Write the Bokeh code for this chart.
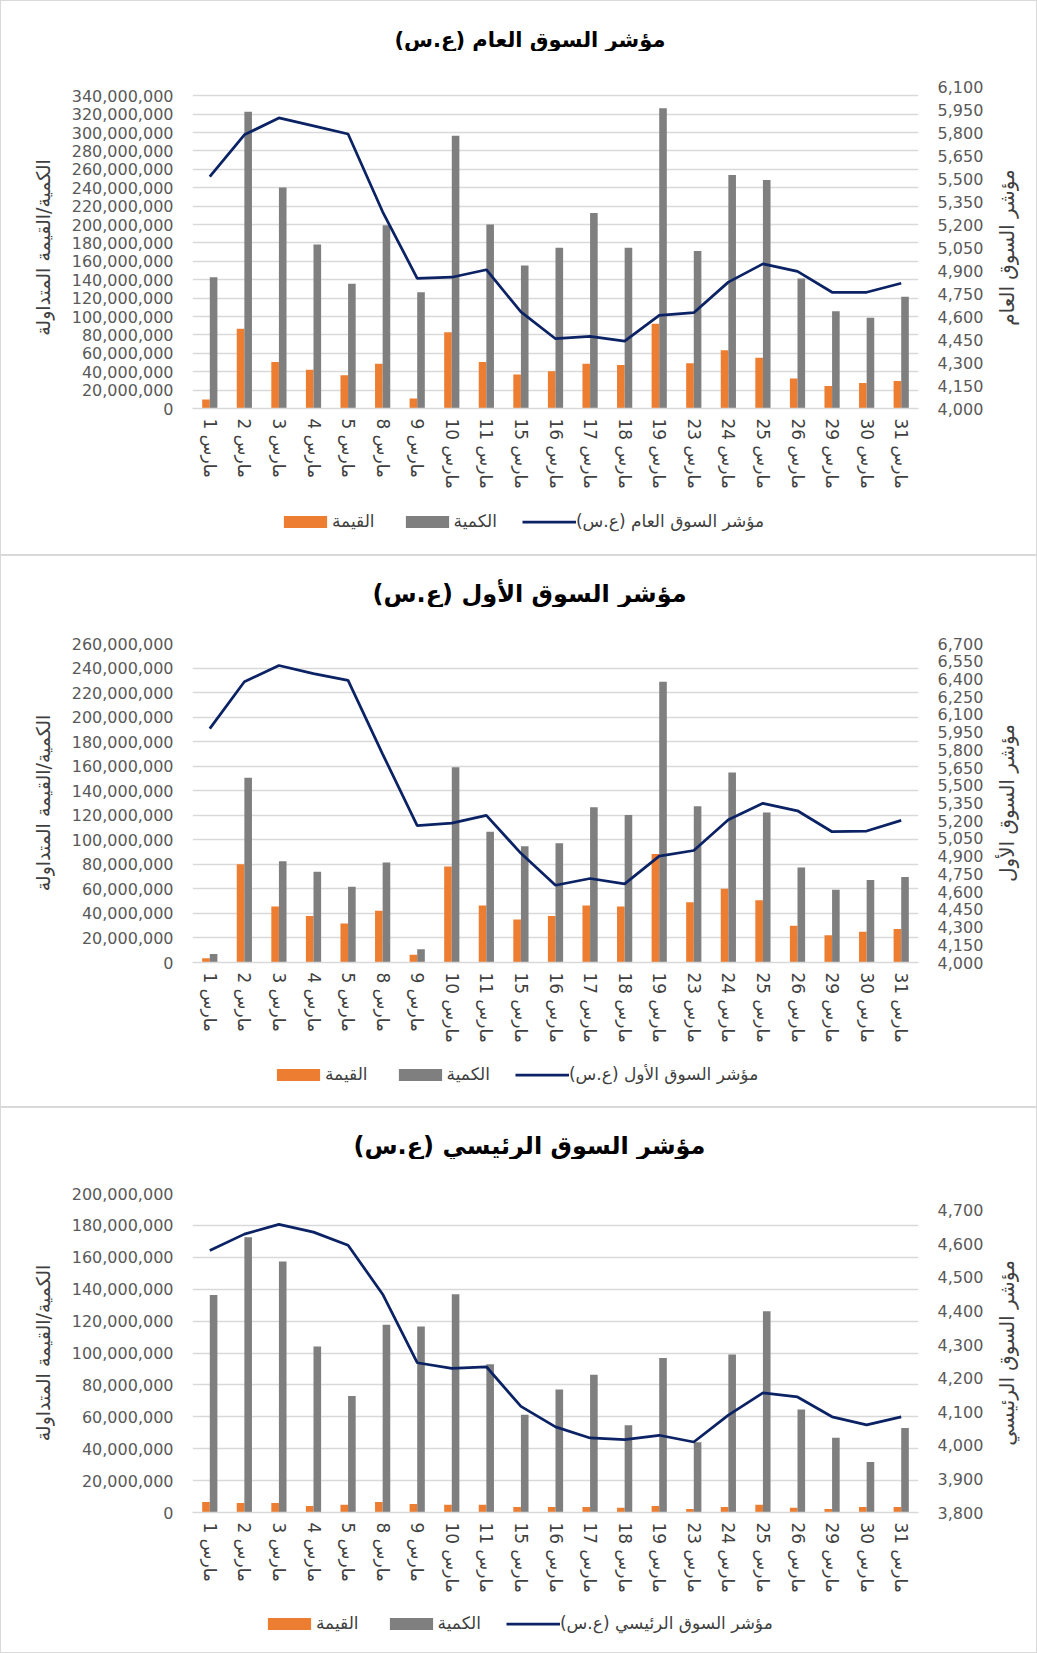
import math
from bokeh.plotting import figure
from bokeh.models import (FactorRange, Range1d, LinearAxis, FixedTicker, NumeralTickFormatter,
                          Legend, LegendItem, ColumnDataSource, Title)
from bokeh.transform import dodge
from bokeh.layouts import column, row
from bokeh.embed import file_html
from bokeh.resources import INLINE

RLM = "\u200f"

# ---------------- data ----------------
days = [1, 2, 3, 4, 5, 8, 9, 10, 11, 15, 16, 17, 18, 19, 23, 24, 25, 26, 29, 30, 31]
dates = [f"{d} مارس" for d in days]

legend_value = "القيمة"
legend_qty = "الكمية"
left_title = "الكمية/القيمة المتداولة"

# Panel 1: general market index
title_1 = "مؤشر السوق العام (ع.س)"
right_title_1 = "مؤشر السوق العام"
value_1 = [9.7e6, 86.6e6, 50.5e6, 42.0e6, 36.1e6, 48.6e6, 10.9e6, 82.8e6, 50.5e6, 36.9e6, 40.4e6,
           48.6e6, 47.4e6, 92.1e6, 49.3e6, 63.3e6, 55.2e6, 32.6e6, 24.5e6, 27.6e6, 29.9e6]
qty_1 = [142.6e6, 322.5e6, 240.1e6, 178.3e6, 135.6e6, 199.3e6, 126.3e6, 296.4e6, 200.1e6, 155.4e6, 174.8e6,
         212.5e6, 174.8e6, 326.3e6, 171.3e6, 253.7e6, 248.3e6, 141.4e6, 105.7e6, 98.7e6, 121.6e6]
index_1 = [5512, 5785, 5895, 5843, 5790, 5283, 4849, 4856, 4905, 4630, 4455,
           4471, 4439, 4607, 4625, 4824, 4943, 4894, 4758, 4758, 4817]
left_ticks_1 = list(range(0, 340_000_001, 20_000_000))
right_ticks_1 = list(range(4000, 6101, 150))

# Panel 2: first market index
title_2 = "مؤشر السوق الأول (ع.س)"
right_title_2 = "مؤشر السوق الأول"
value_2 = [3.5e6, 80.0e6, 45.6e6, 37.8e6, 31.8e6, 42.2e6, 6.4e6, 78.3e6, 46.5e6, 35.0e6, 37.8e6,
           46.5e6, 45.6e6, 88.4e6, 49.1e6, 60.1e6, 50.8e6, 30.0e6, 22.2e6, 25.1e6, 27.4e6]
qty_2 = [6.9e6, 150.5e6, 82.6e6, 74.0e6, 61.8e6, 81.5e6, 10.7e6, 159.2e6, 106.6e6, 94.8e6, 97.1e6,
         126.5e6, 120.2e6, 228.8e6, 127.4e6, 154.8e6, 122.2e6, 77.4e6, 59.2e6, 67.3e6, 69.6e6]
index_2 = [5980, 6376, 6514, 6445, 6388, 5764, 5158, 5179, 5245, 4924, 4654,
           4711, 4666, 4900, 4948, 5209, 5347, 5284, 5107, 5113, 5203]
left_ticks_2 = list(range(0, 260_000_001, 20_000_000))
right_ticks_2 = list(range(4000, 6701, 150))

# Panel 3: main market index
title_3 = "مؤشر السوق الرئيسي (ع.س)"
right_title_3 = "مؤشر السوق الرئيسي"
value_3 = [6.6e6, 5.9e6, 5.9e6, 4.0e6, 4.8e6, 6.6e6, 5.3e6, 4.8e6, 4.8e6, 3.5e6, 3.5e6,
           3.5e6, 2.9e6, 4.0e6, 2.2e6, 3.5e6, 4.8e6, 2.9e6, 2.2e6, 3.5e6, 3.5e6]
qty_3 = [136.3e6, 172.6e6, 157.4e6, 104.1e6, 73.1e6, 117.7e6, 116.6e6, 136.8e6, 92.9e6, 61.3e6, 77.1e6,
         86.3e6, 54.7e6, 96.8e6, 44.1e6, 99.0e6, 126.2e6, 64.5e6, 46.8e6, 31.6e6, 52.9e6]
index_3 = [4580, 4629, 4658, 4635, 4596, 4450, 4246, 4229, 4234, 4116, 4055,
           4022, 4017, 4030, 4010, 4090, 4156, 4144, 4085, 4061, 4085]
left_ticks_3 = list(range(0, 200_000_001, 20_000_000))
right_ticks_3 = list(range(3800, 4701, 100))

# ---------------- style ----------------
FONT = "DejaVu Sans"
ORANGE = "#ED7D31"
GRAY = "#7F7F7F"
NAVY = "#0B2264"
GRID = "#D9D9D9"
W = 1035
STRIP = 44
MB_LEFT = 191
MB_RIGHT = 118


def plain(f):
    f.outline_line_color = None
    f.background_fill_color = "white"
    f.border_fill_color = "white"
    return f


def blank(width, height, **kw):
    f = plain(figure(x_range=Range1d(0, 1), y_range=Range1d(0, 1), width=width, height=height,
                     output_backend="svg", toolbar_location=None, **kw))
    f.axis.visible = False
    f.grid.visible = False
    return f


def make_header(title, height, offset, size):
    h = blank(W, height, min_border_top=0, min_border_bottom=0,
              min_border_left=MB_LEFT, min_border_right=MB_RIGHT)
    h.add_layout(Title(text=title + RLM, text_font=FONT, text_font_size=size,
                       text_font_style="bold", text_color="#000000", align="left",
                       offset=offset, standoff=0), "below")
    return h


def make_strip(right_title, height, top, frame_h):
    s = blank(STRIP, height, min_border_top=top, min_border_bottom=height - top - frame_h,
              min_border_left=0, min_border_right=0)
    s.add_layout(Title(text=right_title, text_font=FONT, text_font_size="20px",
                       text_font_style="normal", text_color="#404040", align="center",
                       standoff=0), "left")
    return s


def add_series(f, src, **kw):
    r1 = f.vbar(x=dodge("x", -0.11, range=f.x_range), top="val", width=0.22, source=src,
                fill_color=ORANGE, line_color=None, **kw)
    r2 = f.vbar(x=dodge("x", 0.11, range=f.x_range), top="qty", width=0.22, source=src,
                fill_color=GRAY, line_color=None, **kw)
    r3 = f.line(x="x", y="idx", y_range_name="idx", source=src, line_color=NAVY,
                line_width=2.75, **kw)
    return r1, r2, r3


def make_main(src, left_max, left_ticks, right_range, right_ticks, height, top, frame_h):
    p = plain(figure(x_range=FactorRange(factors=dates), y_range=Range1d(0, left_max),
                     width=W - STRIP, height=height,
                     min_border_left=MB_LEFT, min_border_right=MB_RIGHT - STRIP,
                     min_border_top=top, min_border_bottom=height - top - frame_h,
                     output_backend="svg", toolbar_location=None))

    p.xgrid.visible = False
    p.ygrid.ticker = FixedTicker(ticks=left_ticks)
    p.ygrid.grid_line_color = GRID
    p.ygrid.grid_line_width = 1.5

    ax = p.yaxis[0]
    ax.ticker = FixedTicker(ticks=left_ticks)
    ax.formatter = NumeralTickFormatter(format="0,0")
    ax.axis_line_color = None
    ax.major_tick_line_color = None
    ax.major_tick_out = 0
    ax.minor_tick_line_color = None
    ax.major_label_text_font = FONT
    ax.major_label_text_font_size = "16px"
    ax.major_label_text_color = "#595959"
    ax.major_label_standoff = 19
    ax.axis_label = left_title
    ax.axis_label_text_font = FONT
    ax.axis_label_text_font_size = "19px"
    ax.axis_label_text_font_style = "normal"
    ax.axis_label_text_color = "#404040"
    ax.axis_label_standoff = 15

    xa = p.xaxis[0]
    xa.major_label_orientation = -math.pi / 2
    xa.major_label_text_font = FONT
    xa.major_label_text_font_size = "17px"
    xa.major_label_text_color = "#404040"
    xa.major_label_standoff = 10
    xa.major_tick_out = 0
    xa.axis_line_color = GRID
    xa.axis_line_width = 1.5
    xa.major_tick_line_color = None
    xa.minor_tick_line_color = None

    p.extra_y_ranges = {"idx": Range1d(*right_range)}
    rax = LinearAxis(y_range_name="idx", ticker=FixedTicker(ticks=right_ticks),
                     formatter=NumeralTickFormatter(format="0,0"))
    rax.axis_line_color = None
    rax.major_tick_line_color = None
    rax.major_tick_out = 0
    rax.minor_tick_line_color = None
    rax.major_label_text_font = FONT
    rax.major_label_text_font_size = "16px"
    rax.major_label_text_color = "#595959"
    rax.major_label_standoff = 19
    p.add_layout(rax, "right")

    add_series(p, src)
    return p


def make_legend(src, line_label, height, x, y):
    f = plain(figure(x_range=FactorRange(factors=dates), y_range=Range1d(0, 1),
                     width=W, height=height, min_border_top=0, min_border_bottom=0,
                     min_border_left=MB_LEFT, min_border_right=MB_RIGHT,
                     output_backend="svg", toolbar_location=None))
    f.extra_y_ranges = {"idx": Range1d(0, 1)}
    f.axis.visible = False
    f.grid.visible = False
    k1, k2, k3 = add_series(f, src, visible=False)
    legend = Legend(items=[LegendItem(label=legend_value, renderers=[k1]),
                           LegendItem(label=legend_qty, renderers=[k2]),
                           LegendItem(label=line_label + RLM, renderers=[k3])],
                    orientation="horizontal", location=(x, y),
                    border_line_color=None, background_fill_alpha=0,
                    glyph_width=54, glyph_height=15,
                    label_text_font=FONT, label_text_font_size="17px",
                    label_text_color="#404040", spacing=25, label_standoff=0,
                    padding=4, margin=0)
    f.add_layout(legend, "center")
    return f


def panel(title, right_title, value, qty, index, left_max, left_ticks, right_range, right_ticks,
          head_h, offset, title_size, main_h, top, frame_h, leg_x, leg_y):
    src = ColumnDataSource(dict(x=dates, val=value, qty=qty, idx=index))
    h = make_header(title, head_h, offset, title_size)
    p = make_main(src, left_max, left_ticks, right_range, right_ticks, main_h, top, frame_h)
    s = make_strip(right_title, main_h, top, frame_h)
    l = make_legend(src, title, 53, leg_x, leg_y)
    return column(h, row(p, s, spacing=0), l, spacing=0,
                  styles={"border": "1px solid #D9D9D9"})


c1 = panel(title_1, right_title_1, value_1, qty_1, index_1, 350_000_000, left_ticks_1,
           (4000, 6100), right_ticks_1, 50, 202, "21px", 450, 35, 322, 86, 23)
c2 = panel(title_2, right_title_2, value_2, qty_2, index_2, 260_000_000, left_ticks_2,
           (4000, 6700), right_ticks_2, 51, 180, "24px", 446, 36, 319, 79, 22)
c3 = panel(title_3, right_title_3, value_3, qty_3, index_3, 200_000_000, left_ticks_3,
           (3800, 4750), right_ticks_3, 51, 161, "24px", 440, 34, 319, 70, 19)

layout = column(c1, c2, c3, spacing=0)
open("out.html", "w").write(file_html(layout, INLINE))
